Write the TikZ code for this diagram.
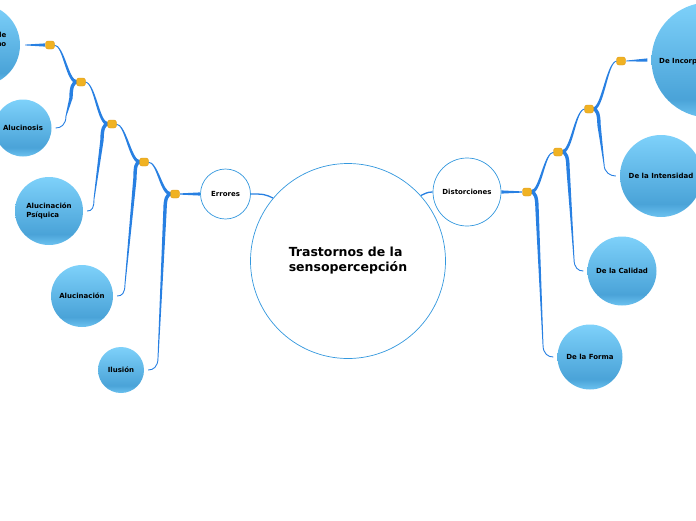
\documentclass[tikz,border=0pt]{standalone}
\usepackage{fontspec}
\setmainfont{DejaVu Sans}
\usetikzlibrary{calc, backgrounds}

\definecolor{linkblue}{RGB}{40,128,226}
\definecolor{ringblue}{RGB}{52,152,222}
\definecolor{knoborange}{RGB}{240,178,35}
\definecolor{knobedge}{RGB}{222,152,22}
\definecolor{bubTop}{RGB}{126,209,250}
\definecolor{bubMid}{RGB}{74,163,216}
\definecolor{bubLow}{RGB}{108,194,240}
\pgfdeclareverticalshading{bubble}{100bp}{color(0bp)=(bubLow); color(25bp)=(bubLow); color(33bp)=(bubMid); color(75bp)=(bubTop); color(100bp)=(bubTop)}

% knob down to a leaf: knob, leaf anchor, stem top dx, stem bottom dx, side
\newcommand{\lowbranch}[5]{%
  \draw[branch, line width=3.4pt] ($(#1)+({4*(#5)},0)$) .. controls ($(#1)+({8*(#5)},0)$) and ($(#1)+(#3,5)$) .. ($(#1)+(#3,16.2)$);
  \fill[branch] ($(#1)+({#3-1.7},16)$) -- ($(#1)+({#3+1.7},16)$) -- ($(#1 |- #2)+({#4+0.45},-12)$) -- ($(#1 |- #2)+({#4-0.45},-12)$) -- cycle;
  \draw[branch, line width=0.9pt] ($(#1 |- #2)+(#4,-12.2)$) .. controls ($(#1 |- #2)+(#4,-3)$) and ($(#2)+({-9*(#5)},0)$) .. ($(#2)+({-4*(#5)},0)$);
}
% knob up to the next knob: parent, child, side
\newcommand{\upbranch}[3]{%
  \fill[branch] ($(#1)+({4*(#3)},-1.7)$) .. controls ($(#1)+({12.5*(#3)},-1.7)$) and ($(#2)+({-14.5*(#3)},-0.45)$) .. ($(#2)+({-4*(#3)},-0.45)$)
    -- ($(#2)+({-4*(#3)},0.45)$) .. controls ($(#2)+({-13.5*(#3)},0.45)$) and ($(#1)+({15.5*(#3)},1.7)$) .. ($(#1)+({4*(#3)},1.7)$) -- cycle;
}

\begin{document}
\begin{tikzpicture}[
    x=1pt, y=-1pt,
    topic/.style={circle, draw=ringblue, line width=0.7pt, fill=white, inner sep=0pt, font=\bfseries\fontsize{7}{8.5}\selectfont},
    leaf/.style={circle, shading=bubble, inner sep=0pt, align=center, font=\bfseries\fontsize{7}{8.5}\selectfont},
    lbl/.style={inner sep=0pt, font=\bfseries\fontsize{7}{8.5}\selectfont},
    knob/.style={rectangle, rounded corners=2.5pt, fill=knoborange, draw=knobedge, line width=0.4pt, minimum width=9pt, minimum height=8pt, inner sep=0pt},
    branch/.style={linkblue}
]
    \useasboundingbox (0,0) rectangle (696,520);

    % Central topic
    \node[topic, minimum size=195pt, align=left, font=\bfseries\fontsize{12.5}{15}\selectfont] (root) at (348,261) {Trastornos de la\\sensopercepción};

    % Main topics
    \node[topic, minimum size=50pt] (err) at (225.5,194) {Errores};
    \node[topic, minimum size=68pt] (dist) at (467,192) {Distorciones};

    % Knobs, left side
    \node[knob] (kl0) at (175,194) {};
    \node[knob] (kl1) at (144,162) {};
    \node[knob] (kl2) at (112,124) {};
    \node[knob] (kl3) at (81,82) {};
    \node[knob] (kl4) at (50,45) {};

    % Knobs, right side
    \node[knob] (kr0) at (527,192) {};
    \node[knob] (kr1) at (558,152) {};
    \node[knob] (kr2) at (589,109) {};
    \node[knob] (kr3) at (621,61) {};

    % Leaves under Errores
    \node[leaf, minimum size=46pt] (ilusion) at (121,370) {Ilusión};
    \node[leaf, minimum size=62pt] (aluc) at (82,296) {Alucinación};
    \node[leaf, minimum size=68pt, align=left] (alucpsi) at (49,211) {Alucinación\\Psíquica};
    \node[leaf, minimum size=57pt] (alucinosis) at (23,128) {Alucinosis};
    \node[leaf, minimum size=82pt] (imagen) at (-21,45) {};
    \node[lbl, anchor=east, align=right] (imagentxt) at (6.5,40) {Imagen de\\Miembro Ajeno};

    % Leaves under Distorciones
    \node[leaf, minimum size=65pt] (forma) at (590,357) {De la Forma};
    \node[leaf, minimum size=69pt] (calidad) at (622,271) {De la Calidad};
    \node[leaf, minimum size=82pt] (intens) at (661,176) {De la Intensidad};
    \node[leaf, minimum size=115pt] (incorp) at (709,60) {};
    \node[lbl, anchor=west] (incorptxt) at (659,61) {De Incorporación};

    \begin{scope}[on background layer]
        % Centre to main topics
        \draw[branch, line width=1.3pt] (err.east) .. controls +(12,0) and +(-8,-4) .. (root.140);
        \draw[branch, line width=1.3pt] (dist.west) .. controls +(-6,0) and +(5,-2) .. (root.42);

        % Main topics to first knobs
        \fill[branch] ($(err.west)+(0,-1.6)$) -- ($(err.west)+(0,1.6)$) -- ($(kl0)+(5,0.6)$) -- ($(kl0)+(5,-0.6)$) -- cycle;
        \fill[branch] ($(dist.east)+(0,-1.6)$) -- ($(dist.east)+(0,1.6)$) -- ($(kr0)+(-5,0.6)$) -- ($(kr0)+(-5,-0.6)$) -- cycle;

        % Left chain
        \upbranch{kl0}{kl1}{-1}
        \upbranch{kl1}{kl2}{-1}
        \upbranch{kl2}{kl3}{-1}
        \upbranch{kl3}{kl4}{-1}
        \lowbranch{kl0}{ilusion.east}{-10}{-17}{-1}
        \lowbranch{kl1}{aluc.east}{-9}{-19}{-1}
        \lowbranch{kl2}{alucpsi.east}{-10}{-18}{-1}
        \lowbranch{kl3}{alucinosis.east}{-10}{-15}{-1}
        \fill[branch] ($(kl4)+(-5,-1.6)$) -- ($(kl4)+(-5,1.6)$) -- ($(imagen.east)+(5,0.4)$) -- ($(imagen.east)+(5,-0.4)$) -- cycle;

        % Right chain
        \upbranch{kr0}{kr1}{1}
        \upbranch{kr1}{kr2}{1}
        \upbranch{kr2}{kr3}{1}
        \lowbranch{kr0}{forma.west}{10}{16}{1}
        \lowbranch{kr1}{calidad.west}{10}{16}{1}
        \lowbranch{kr2}{intens.west}{10}{15}{1}
        \fill[branch] ($(kr3)+(5,-0.4)$) -- ($(kr3)+(5,0.4)$) -- ($(incorp.west)+(-4,1.6)$) -- ($(incorp.west)+(-4,-1.6)$) -- cycle;
    \end{scope}
\end{tikzpicture}
\end{document}
